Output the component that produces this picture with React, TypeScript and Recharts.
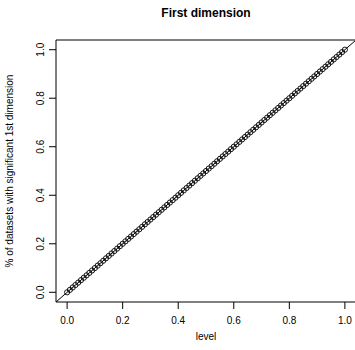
import React from "react";
import {
  ScatterChart,
  Scatter,
  XAxis,
  YAxis,
  ReferenceLine,
  ReferenceArea,
} from "recharts";

// significance levels tested
const levels = [
  0, 0.01, 0.02, 0.03, 0.04, 0.05, 0.06, 0.07, 0.08, 0.09,
  0.1, 0.11, 0.12, 0.13, 0.14, 0.15, 0.16, 0.17, 0.18, 0.19,
  0.2, 0.21, 0.22, 0.23, 0.24, 0.25, 0.26, 0.27, 0.28, 0.29,
  0.3, 0.31, 0.32, 0.33, 0.34, 0.35, 0.36, 0.37, 0.38, 0.39,
  0.4, 0.41, 0.42, 0.43, 0.44, 0.45, 0.46, 0.47, 0.48, 0.49,
  0.5, 0.51, 0.52, 0.53, 0.54, 0.55, 0.56, 0.57, 0.58, 0.59,
  0.6, 0.61, 0.62, 0.63, 0.64, 0.65, 0.66, 0.67, 0.68, 0.69,
  0.7, 0.71, 0.72, 0.73, 0.74, 0.75, 0.76, 0.77, 0.78, 0.79,
  0.8, 0.81, 0.82, 0.83, 0.84, 0.85, 0.86, 0.87, 0.88, 0.89,
  0.9, 0.91, 0.92, 0.93, 0.94, 0.95, 0.96, 0.97, 0.98, 0.99,
  1,
];

// share of datasets with a significant 1st dimension
const pctSignificant = [
  0, 0.01, 0.02, 0.03, 0.04, 0.05, 0.06, 0.07, 0.08, 0.09,
  0.1, 0.11, 0.12, 0.13, 0.14, 0.15, 0.16, 0.17, 0.18, 0.19,
  0.2, 0.21, 0.22, 0.23, 0.24, 0.25, 0.26, 0.27, 0.28, 0.29,
  0.3, 0.31, 0.32, 0.33, 0.34, 0.35, 0.36, 0.37, 0.38, 0.39,
  0.4, 0.41, 0.42, 0.43, 0.44, 0.45, 0.46, 0.47, 0.48, 0.49,
  0.5, 0.51, 0.52, 0.53, 0.54, 0.55, 0.56, 0.57, 0.58, 0.59,
  0.6, 0.61, 0.62, 0.63, 0.64, 0.65, 0.66, 0.67, 0.68, 0.69,
  0.7, 0.71, 0.72, 0.73, 0.74, 0.75, 0.76, 0.77, 0.78, 0.79,
  0.8, 0.81, 0.82, 0.83, 0.84, 0.85, 0.86, 0.87, 0.88, 0.89,
  0.9, 0.91, 0.92, 0.93, 0.94, 0.95, 0.96, 0.97, 0.98, 0.99,
  1,
];

const ticks = [0, 0.2, 0.4, 0.6, 0.8, 1];

const FONT = "'Liberation Sans', Arial, sans-serif";

const data = levels.map((l, i) => ({ level: l, pct: pctSignificant[i] }));

const OpenCircle = (props: any) => (
  <circle cx={props.cx} cy={props.cy} r={2.6} fill="none" stroke="#000" strokeWidth={0.9} />
);

const YTick = (props: any) => {
  const { x, y, payload } = props;
  return (
    <text
      x={x}
      y={y}
      transform={`rotate(-90, ${x}, ${y})`}
      textAnchor="middle"
      fontSize={10}
      fontFamily={FONT}
      fill="#000"
    >
      {payload.value.toFixed(1)}
    </text>
  );
};

const XTick = (props: any) => {
  const { x, y, payload } = props;
  return (
    <text x={x} y={y} dy="0.71em" textAnchor="middle" fontSize={10} fontFamily={FONT} fill="#000">
      {payload.value.toFixed(1)}
    </text>
  );
};

export default function App() {
  return (
    <div
      style={{
        position: "absolute",
        left: 0,
        top: 0,
        width: 355,
        height: 350,
        overflow: "hidden",
        background: "#fff",
        fontFamily: FONT,
      }}
    >
      <div
        style={{
          position: "absolute",
          left: 56,
          width: 300,
          top: 6,
          textAlign: "center",
          fontSize: 12,
          fontWeight: "bold",
        }}
      >
        First dimension
      </div>
      <div
        style={{
          position: "absolute",
          left: 56,
          width: 300,
          top: 331,
          textAlign: "center",
          fontSize: 10,
        }}
      >
        level
      </div>
      <div
        style={{
          position: "absolute",
          left: 10 - 150,
          top: 171 - 7,
          width: 300,
          textAlign: "center",
          fontSize: 10,
          transform: "rotate(-90deg)",
          lineHeight: "14px",
        }}
      >
        % of datasets with significant 1st dimension
      </div>
      <ScatterChart
        width={357}
        height={350}
        margin={{ top: 40, right: 1, bottom: 18, left: 0 }}
      >
        <XAxis
          type="number"
          dataKey="level"
          domain={[-0.04, 1.04]}
          ticks={ticks}
          axisLine={false}
          tickSize={7}
          tickMargin={8}
          tickLine={{ stroke: "#000" }}
          tick={<XTick />}
          height={30}
        />
        <YAxis
          type="number"
          dataKey="pct"
          domain={[-0.04, 1.04]}
          ticks={ticks}
          axisLine={false}
          tickSize={7}
          tickMargin={5}
          tickLine={{ stroke: "#000" }}
          tick={<YTick />}
          width={56}
        />
        <ReferenceArea
          x1={-0.04}
          x2={1.04}
          y1={-0.04}
          y2={1.04}
          fill="none"
          fillOpacity={0}
          stroke="#000"
          strokeWidth={1}
          ifOverflow="visible"
        />
        <ReferenceLine
          segment={[
            { x: -0.04, y: -0.04 },
            { x: 1.04, y: 1.04 },
          ]}
          stroke="#000"
          strokeWidth={1}
          ifOverflow="visible"
        />
        <Scatter data={data} shape={<OpenCircle />} isAnimationActive={false} />
      </ScatterChart>
    </div>
  );
}
